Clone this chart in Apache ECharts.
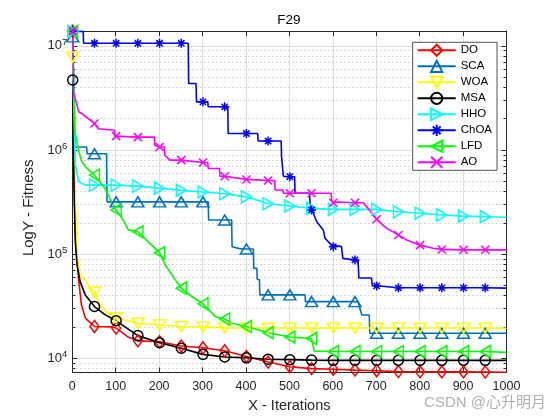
<!DOCTYPE html>
<html><head><meta charset="utf-8">
<script src="https://cdn.jsdelivr.net/npm/echarts@6/dist/echarts.min.js"></script>
<style>html,body{margin:0;padding:0;background:#fff}#c{width:560px;height:420px}</style>
</head><body><div id="c"></div>
<script>
const FONT = 'Liberation Sans, Arial, Helvetica, sans-serif';
const seriesNames = ['DO','SCA','WOA','MSA','HHO','ChOA','LFD','AO'];
const markerIters = [1,51,101,151,201,251,301,351,401,451,501,551,601,651,701,751,801,851,901,951];
const xTicks = [0,100,200,300,400,500,600,700,800,900,1000];

const DO = [[1,1.38e7],[3,1.5e6],[5,4.0e5],[7,1.53e5],[11,8.5e4],[15,5.45e4],[21,3.26e4],[30,2.43e4],[51,2.02e4],[91,2.0e4],[101,1.95e4],[122,1.68e4],[128,1.6e4],[151,1.47e4],[201,1.44e4],[251,1.31e4],[301,1.26e4],[351,1.18e4],[401,1.04e4],[451,9.2e3],[501,8.3e3],[551,7.95e3],[601,7.85e3],[651,7.7e3],[701,7.6e3],[751,7.45e3],[801,7.42e3],[851,7.4e3],[901,7.4e3],[951,7.38e3],[1000,7.35e3]];
const SCA = [[1,1.22e7],[4,3.0e6],[6,1.07e6],[33,1.07e6],[34,9.2e5],[51,9.2e5],[79,9.2e5],[80,3.18e5],[101,3.18e5],[151,3.18e5],[201,3.18e5],[251,3.18e5],[301,3.18e5],[313,3.18e5],[314,2.13e5],[351,2.13e5],[367,2.13e5],[368,1.18e5],[385,1.13e5],[401,1.12e5],[417,1.12e5],[418,7.3e4],[425,7.3e4],[426,5.7e4],[431,5.7e4],[432,4.06e4],[451,4.06e4],[501,4.06e4],[536,4.06e4],[537,3.5e4],[551,3.5e4],[601,3.5e4],[651,3.5e4],[658,3.5e4],[662,3.05e4],[667,2.6e4],[684,2.6e4],[685,1.74e4],[701,1.74e4],[751,1.74e4],[801,1.74e4],[851,1.74e4],[901,1.74e4],[951,1.74e4],[1000,1.74e4]];
const WOA = [[1,7.8e6],[4,1.5e6],[7,3.7e5],[9,1.53e5],[11,9.8e4],[18,6.3e4],[30,5.66e4],[41,4.71e4],[51,4.3e4],[68,3.03e4],[83,2.71e4],[101,2.45e4],[151,2.17e4],[201,2.09e4],[251,2.02e4],[301,2.0e4],[351,1.96e4],[401,1.95e4],[451,1.95e4],[501,1.95e4],[551,1.95e4],[601,1.95e4],[651,1.95e4],[701,1.95e4],[751,1.95e4],[801,1.95e4],[851,1.95e4],[901,1.95e4],[951,1.95e4],[1000,1.94e4]];
const MSA = [[1,4.7e6],[4,4.0e5],[7,1.32e5],[11,7.87e4],[18,5.45e4],[30,4.06e4],[51,3.14e4],[76,2.61e4],[101,2.29e4],[151,1.65e4],[201,1.41e4],[251,1.25e4],[301,1.09e4],[351,1.03e4],[401,1.01e4],[451,9.8e3],[501,9.7e3],[551,9.6e3],[601,9.55e3],[651,9.55e3],[701,9.55e3],[751,9.55e3],[801,9.55e3],[851,9.55e3],[901,9.55e3],[951,9.55e3],[1000,9.55e3]];
const HHO = [[1,1.38e7],[3,3.3e6],[5,1.39e6],[7,7.2e5],[15,4.96e5],[30,4.6e5],[51,4.6e5],[101,4.6e5],[151,4.5e5],[201,4.3e5],[251,4.1e5],[301,3.95e5],[351,3.8e5],[401,3.55e5],[451,3.05e5],[501,2.9e5],[551,2.75e5],[601,2.69e5],[651,2.69e5],[701,2.69e5],[751,2.55e5],[801,2.47e5],[851,2.38e5],[901,2.32e5],[951,2.29e5],[1000,2.26e5]];
const ChOA = [[1,1.38e7],[25,1.38e7],[26,1.06e7],[51,1.06e7],[101,1.06e7],[151,1.06e7],[201,1.06e7],[251,1.06e7],[267,1.06e7],[268,4.35e6],[285,4.35e6],[286,2.9e6],[301,2.9e6],[312,2.9e6],[313,2.6e6],[351,2.6e6],[358,2.6e6],[359,1.44e6],[401,1.44e6],[427,1.44e6],[428,1.22e6],[451,1.22e6],[481,1.22e6],[482,8.6e5],[485,8.6e5],[486,5.6e5],[501,5.54e5],[512,5.54e5],[513,3.84e5],[546,3.84e5],[548,3.0e5],[551,2.66e5],[555,2.47e5],[563,2.05e5],[578,1.71e5],[582,1.42e5],[597,1.22e5],[601,1.18e5],[620,1.18e5],[623,9.1e4],[651,8.8e4],[658,8.8e4],[660,5.9e4],[689,5.9e4],[691,5.0e4],[701,4.95e4],[707,4.95e4],[709,4.75e4],[751,4.75e4],[801,4.75e4],[851,4.75e4],[901,4.75e4],[951,4.75e4],[1000,4.72e4]];
const LFD = [[1,1.38e7],[3,4.0e6],[6,1.5e6],[15,9.6e5],[22,7.7e5],[34,6.65e5],[51,5.74e5],[60,5.14e5],[75,4.3e5],[87,3.4e5],[101,2.66e5],[117,2.13e5],[129,1.71e5],[151,1.64e5],[183,1.22e5],[201,1.03e5],[214,7.87e4],[237,5.66e4],[251,4.71e4],[275,3.92e4],[301,3.33e4],[329,2.52e4],[351,2.38e4],[367,2.17e4],[401,2.02e4],[451,1.76e4],[501,1.6e4],[551,1.55e4],[555,1.55e4],[557,1.17e4],[601,1.16e4],[651,1.16e4],[701,1.16e4],[751,1.16e4],[801,1.16e4],[851,1.16e4],[901,1.16e4],[951,1.16e4],[1000,1.14e4]];
const AO = [[1,1.38e7],[3,3.6e6],[15,2.32e6],[22,2.24e6],[51,1.8e6],[60,1.6e6],[97,1.55e6],[98,1.36e6],[101,1.36e6],[151,1.33e6],[189,1.33e6],[190,1.11e6],[201,1.07e6],[212,1.07e6],[213,8.9e5],[225,8.0e5],[251,8.0e5],[301,7.6e5],[312,7.6e5],[313,6.65e5],[339,6.65e5],[340,5.6e5],[351,5.6e5],[401,5.22e5],[451,5.1e5],[466,5.1e5],[467,4.13e5],[485,4.13e5],[486,3.84e5],[501,3.84e5],[551,3.84e5],[596,3.84e5],[598,3.18e5],[601,3.12e5],[651,3.12e5],[670,3.12e5],[678,2.85e5],[693,2.38e5],[701,2.16e5],[724,1.77e5],[751,1.53e5],[770,1.37e5],[801,1.22e5],[831,1.14e5],[851,1.11e5],[901,1.1e5],[951,1.1e5],[1000,1.1e5]];

const Y_MIN = 7300, Y_MAX = 1.39e7;
const markerSet = new Set(markerIters);
const AST = 'path://M10,0L10,20M0,10L20,10M3,3L17,17M3,17L17,3';
const XS = 'path://M0,0L20,20M0,20L20,0';

const styles = {
  DO:   {data: DO,   color: '#FF0000', symbol: 'diamond',  size: [9, 12], rot: 0},
  SCA:  {data: SCA,  color: '#0072BD', symbol: 'triangle', size: [12, 10], rot: 0},
  WOA:  {data: WOA,  color: '#FFFF00', symbol: 'triangle', size: [12, 10], rot: 180},
  MSA:  {data: MSA,  color: '#000000', symbol: 'circle',   size: 10, rot: 0},
  HHO:  {data: HHO,  color: '#00FFFF', symbol: 'triangle', size: [12, 10], rot: -90},
  ChOA: {data: ChOA, color: '#0000FF', symbol: AST,        size: 9, rot: 0},
  LFD:  {data: LFD,  color: '#00FF00', symbol: 'triangle', size: [12, 10], rot: 90},
  AO:   {data: AO,   color: '#FF00FF', symbol: XS,         size: 8, rot: 0}
};

const minorVals = [];
[1e3, 1e4, 1e5, 1e6, 1e7].forEach(d => { for (let m = 2; m <= 9; m++) { const v = m * d; if (v > Y_MIN && v < Y_MAX) minorVals.push(v); } });

const dataSeries = seriesNames.map(n => {
  const s = styles[n];
  return {
    name: n, type: 'line', z: 3,
    data: s.data.map(p => ({value: p, symbol: markerSet.has(p[0]) ? s.symbol : 'none'})),
    symbol: s.symbol, symbolSize: s.size, symbolRotate: s.rot, showAllSymbol: true,
    color: s.color,
    lineStyle: {color: s.color, width: 1.6},
    itemStyle: {color: 'rgba(255,255,255,0)', borderColor: s.color, borderWidth: 1.5},
    emphasis: {disabled: true}, animation: false
  };
});

const gridSeries = {
  name: '_grid', type: 'line', data: [], z: 1, silent: true,
  markLine: {
    silent: true, symbol: ['none', 'none'], label: {show: false}, animation: false, z: 1,
    data: [].concat(
      minorVals.map(v => ({yAxis: v, lineStyle: {color: '#b9b9b9', width: 1, type: [1, 3]}})),
      minorVals.map(v => [{coord: [0, v], lineStyle: {color: '#262626', width: 1, type: 'solid'}}, {coord: [7, v]}]),
      minorVals.map(v => [{coord: [993, v], lineStyle: {color: '#262626', width: 1, type: 'solid'}}, {coord: [1000, v]}])
    )
  }
};

const chart = echarts.init(document.getElementById('c'), null, {renderer: 'canvas'});
chart.setOption({
  animation: false,
  backgroundColor: '#fff',
  title: {text: 'F29', left: 289, top: 13, padding: 0, textAlign: 'center',
    textStyle: {fontSize: 13.5, fontWeight: 'normal', color: '#000', fontFamily: FONT}},
  legend: {
    data: seriesNames, orient: 'vertical', left: 412.7, top: 42.3,
    itemWidth: 38, itemHeight: 14, itemGap: 2.8, padding: [1.4, 5, 1.4, 4],
    backgroundColor: '#fff', borderColor: '#262626', borderWidth: 0.8,
    textStyle: {fontSize: 11.5, color: '#000', fontFamily: FONT}, selectedMode: false
  },
  grid: {left: 72.3, right: 53.5, top: 31, bottom: 47.5, containLabel: false},
  xAxis: [{
    type: 'value', min: 0, max: 1000, interval: 100,
    name: 'X - Iterations', nameLocation: 'middle', nameGap: 25,
    nameTextStyle: {fontSize: 14.5, color: '#262626', fontFamily: FONT},
    axisLine: {show: true, lineStyle: {color: '#262626', width: 1}},
    axisTick: {show: true, inside: true, length: 5, lineStyle: {color: '#262626'}},
    axisLabel: {fontSize: 12.5, color: '#262626', margin: 8, fontFamily: FONT,
      formatter: v => xTicks.includes(v) ? String(v) : ''},
    splitLine: {show: true, lineStyle: {color: '#dedede', width: 1}}
  }, {
    type: 'value', position: 'top', min: 0, max: 1000, interval: 100,
    axisLine: {show: true, onZero: false, lineStyle: {color: '#262626', width: 1}},
    axisTick: {show: true, inside: true, length: 5, lineStyle: {color: '#262626'}},
    axisLabel: {show: false}, splitLine: {show: false}
  }],
  yAxis: [{
    type: 'log', logBase: 10, min: Y_MIN, max: Y_MAX,
    name: 'LogY - Fitness', nameLocation: 'middle', nameGap: 29, nameRotate: 90,
    nameTextStyle: {fontSize: 15, color: '#262626', fontFamily: FONT, padding: [0, 12, 0, 0]},
    axisLine: {show: true, lineStyle: {color: '#262626', width: 1}},
    axisTick: {show: true, inside: true, length: 5, lineStyle: {color: '#262626'}},
    axisLabel: {showMinLabel: false, showMaxLabel: false, margin: 5,
      formatter: v => { const e = Math.round(Math.log10(v)); return Math.abs(Math.log10(v) - e) < 1e-6 ? '{b|10}{s|' + e + '}' : ''; },
      rich: {b: {fontSize: 13, color: '#262626', fontFamily: FONT},
             s: {fontSize: 9.5, color: '#262626', fontFamily: FONT, padding: [0, 0, 8, 0]}}},
    splitLine: {show: true, lineStyle: {color: '#dedede', width: 1}}
  }, {
    type: 'log', logBase: 10, min: Y_MIN, max: Y_MAX, position: 'right',
    axisLine: {show: true, onZero: false, lineStyle: {color: '#262626', width: 1}},
    axisTick: {show: true, inside: true, length: 5, lineStyle: {color: '#262626'}},
    axisLabel: {show: false}, splitLine: {show: false}
  }],
  series: [gridSeries].concat(dataSeries),
  graphic: [{type: 'text', right: 14, top: 395, silent: true,
    style: {text: 'CSDN @心升明月', fontSize: 15, fill: 'rgba(150,150,150,0.75)', fontFamily: 'Liberation Sans, Noto Sans CJK SC, sans-serif'}}]
});
</script></body></html>
